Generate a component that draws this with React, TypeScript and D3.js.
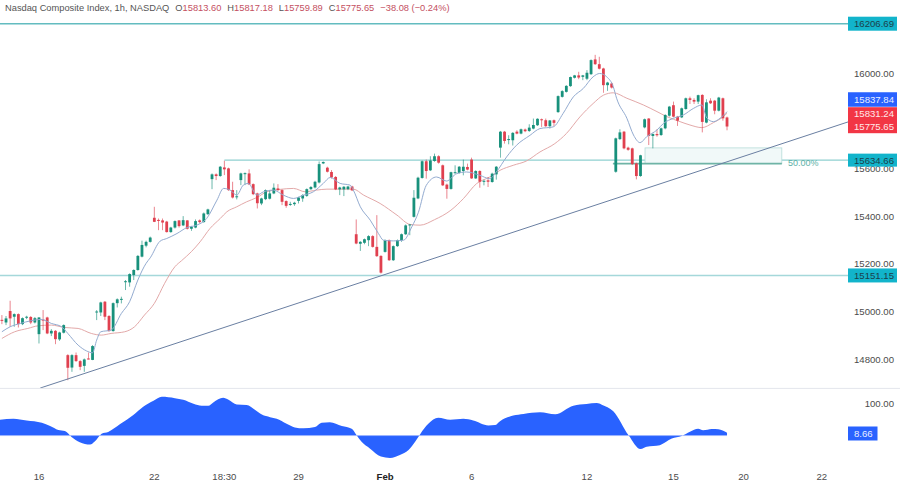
import React from "react";
import * as d3 from "d3";

const opens = [14965,14954,15002,14978,14989,14947,14974,14977,14954,14905,14966,14975,14908,14919,14883,14911,14817,14765,14817,14792,14772,14803,14797,14996,14996,15041,14981,14918,15035,15050,15124,15122,15153,15174,15230,15276,15292,
15393,15384,15382,15377,15333,15352,15382,15361,15382,15347,15352,15382,15375,15408,15555,15575,15568,15604,15600,15509,15479,15551,15577,15579,15534,15495,15453,15471,15473,15495,15516,15509,15463,15449,15450,15464,15474,15485,15513,15520,15541,15621,15603,15585,15564,15512,15512,15513,15524,15324,15284,15288,15299,15316,15271,15233,15250,15299,15215,15274,15299,15324,15362,15397,15474,
15560,15630,15592,15631,15651,15613,15532,15514,15581,15581,15589,15606,15637,15558,15589,15546,15550,15543,15575,15687,15754,15720,15718,15754,15746,15763,15757,15767,15781,15806,15802,15777,15802,15836,15900,15921,15945,15980,15990,15984,15976,15995,16057,16037,16019,15949,15956,
15586,15723,15754,15687,15684,15621,15568,15772,15809,15736,15744,15740,15768,15821,15865,15817,15814,15849,15894,15887,15880,15908,15792,15884,15884,15842,15894,15813.6];
const highs = [14985,14981,15045,14992,14992,14975,14982,14981,14977,14976,15006,14978,14926,14922,14915,14946,14821,14821,14828,14796,14803,14828,14859,15006,15041,15044,14985,15038,15055,15062,15132,15160,15177,15237,15297,15297,15314,
15439,15390,15390,15380,15355,15382,15383,15400,15383,15359,15386,15386,15415,15431,15579,15579,15610,15632,15603,15544,15509,15582,15583,15596,15537,15498,15477,15512,15509,15537,15534,15512,15466,15460,15460,15481,15492,15516,15526,15548,15629,15629,15607,15593,15568,15523,15526,15527,15527,15386,15295,15306,15320,15320,15404,15236,15302,15302,15277,15302,15327,15365,15366,15509,15565,
15633,15637,15651,15662,15655,15616,15536,15586,15613,15610,15637,15620,15645,15592,15592,15553,15564,15582,15610,15757,15757,15739,15752,15760,15767,15767,15785,15809,15810,15809,15809,15803,15805,15906,15928,15949,15985,15992,16005,15992,16012,16057,16076,16068,16022,15963,15960,
15729,15764,15757,15691,15687,15624,15657,15809,15811,15747,15764,15771,15827,15862,15880,15820,15855,15897,15901,15894,15909,15911,15890,15894,15887,15900,15897,15817.18];
const lows = [14947,14943,14936,14936,14933,14943,14968,14947,14950,14866,14922,14905,14897,14863,14877,14908,14712,14747,14789,14754,14747,14799,14796,14964,14981,14964,14915,14915,15017,15034,15090,15104,15132,15171,15227,15269,15289,
15375,15341,15341,15331,15330,15348,15352,15358,15344,15338,15349,15369,15372,15405,15513,15551,15565,15572,15506,15474,15470,15530,15530,15530,15488,15432,15446,15467,15470,15492,15506,15446,15435,15443,15443,15453,15460,15481,15509,15516,15537,15618,15583,15558,15509,15488,15484,15509,15505,15282,15254,15282,15274,15268,15229,15159,15247,15212,15212,15271,15292,15321,15320,15394,15471,
15557,15557,15589,15628,15620,15526,15473,15511,15578,15578,15571,15592,15556,15556,15519,15529,15522,15540,15553,15645,15704,15701,15696,15743,15743,15752,15753,15764,15778,15774,15774,15767,15777,15833,15897,15918,15942,15977,15974,15970,15970,15992,16034,16015,15917,15925,15935,
15582,15719,15680,15674,15614,15554,15565,15768,15698,15684,15733,15736,15764,15817,15814,15778,15811,15846,15870,15870,15870,15751,15789,15870,15827,15839,15800,15759.89];
const closes = [14963,14971,14971,14989,14947,14972,14978,14954,14972,14975,14963,14908,14919,14884,14912,14943,14764,14817,14792,14768,14799,14800,14855,15000,15038,14978,14918,15035,15051,15053,15127,15157,15174,15233,15279,15292,15310,
15376,15381,15373,15333,15352,15379,15358,15383,15347,15355,15379,15375,15411,15428,15575,15568,15607,15596,15509,15478,15483,15579,15580,15533,15492,15454,15474,15509,15495,15519,15509,15460,15443,15451,15456,15478,15488,15513,15522,15544,15618,15627,15586,15562,15512,15520,15523,15524,15508,15285,15292,15303,15316,15271,15232,15163,15299,15215,15274,15299,15324,15361,15365,15477,15561,
15630,15589,15633,15651,15624,15529,15514,15584,15584,15607,15607,15595,15558,15589,15544,15548,15544,15578,15607,15754,15715,15723,15749,15746,15764,15756,15771,15782,15808,15802,15777,15801,15791,15903,15924,15946,15983,15990,15981,15990,16001,16054,16037,16018,15949,15960,15939,
15726,15751,15684,15678,15618,15568,15655,15806,15736,15744,15739,15768,15824,15859,15817,15800,15852,15894,15887,15880,15907,15795,15877,15873,15842,15897,15810,15775.65];

const fastIdx = [0,2,4.5,7,9.5,12,14.5,16,18.5,20.5,22,23,24,26.5,29,31,33,35,36,38.4,40,42.5,44.9,47.3,49.7,52.2,53.8,55.4,57,58.6,59.8,61.9,63.5,65.9,68.3,70.8,73.2,75.6,78,79.7,82.1,84.5,85.3,87,89.4,91.4,92.6,95,97.5,99.5,101.1,103,105.5,107.9,110.4,112.8,116,118.4,120,122.5,124.9,128.2,130.6,133.8,136.2,138.7,141.1,143.5,145.1,146.8,148.4,149.2,151.7,153.3,154.9,156.5,159,160.6,163,165.4,167.9,169.9,171.1,172.7,174.3,176];
const fastVal = [14915,14936,14950,14961,14967,14950,14936,14908,14859,14835,14827,14880,14915,14922,14992,15041,15132,15202,15225,15295,15306,15327,15352,15362,15390,15467,15516,15509,15488,15530,15537,15488,15502,15509,15488,15474,15488,15502,15537,15562,15537,15530,15509,15439,15383,15327,15299,15296,15299,15355,15416,15529,15564,15547,15578,15585,15571,15557,15585,15648,15697,15739,15767,15774,15830,15900,15935,15984,15998,15984,15942,15894,15810,15740,15708,15733,15761,15789,15810,15824,15852,15866,15811,15796,15810,15837.84];
const slowIdx = [0,3.1,6.3,8.8,12,15.2,18.5,21.7,24.1,26.5,29.8,32.2,34.6,37,39.5,42,43.6,46,48.1,50.5,53,54.6,57,59.4,61.9,64.3,67.5,70.8,73.6,76.4,78.9,82.1,85.3,87.8,91.8,95.9,99.1,101.5,105,109,112,115.2,118.4,120.9,124.1,127.3,130.6,134.2,137,140.3,143.5,146,148.4,151.7,155.7,159,161.4,164.6,167,169.9,172.7,175.1,176];
const slowVal = [14887,14915,14929,14940,14943,14933,14929,14908,14901,14908,14915,14936,14985,15034,15118,15188,15213,15251,15292,15348,15390,15418,15439,15460,15478,15502,15512,15516,15502,15509,15513,15513,15513,15488,15453,15404,15365,15362,15385,15425,15473,15536,15564,15592,15613,15631,15669,15704,15746,15816,15872,15907,15917,15894,15866,15838,15817,15796,15782,15771,15792,15817,15831.24];

const oscIdx = [-0.5,2.8,6,9.7,11.7,13.7,15.3,16.9,18.9,21.4,22.6,24.2,25.8,28.7,31.9,34.3,36.8,38.8,42,44,46.5,48.5,50.1,51.3,53.7,55,57,59.4,61.4,63.1,65.1,66.7,69.1,71.1,73.2,76,77.6,79.6,82.5,84.9,86.1,87.3,89.3,92,94.2,96.6,98.7,100.3,101.6,103.5,105.9,108.8,112,114.4,118.1,119.7,120.9,124.1,126.6,130.6,134.3,138.7,141.9,144.4,145.6,148.4,152.1,155,156.5,159.7,162.6,165,167,169,170.2,172.3,173.9,176];
const oscVal = [48.8,52,46.7,39.6,29.5,17.3,14.2,-4.1,-20.3,-27.4,-17.3,6.1,11.2,35.6,64,89.4,107.7,119.9,115.8,110.8,98.6,92.5,92.5,102.6,116.8,110.8,96.5,94.5,80.3,65,56.9,51.8,36.6,25.4,22.4,26.4,39.6,41.7,29.5,21.3,1,-19.3,-39.6,-65,-69.1,-60,-44.7,-19.3,6.1,36.6,54.9,48.8,52,46.7,31.5,32.5,44.7,62,67,72.1,66,92.5,97.5,100.6,95.5,75.2,1,-41.7,-34.5,-29.5,-9.1,-1,12.2,21.3,16.3,20.3,19.3,8.66];

const priceTicks = [16000, 15600, 15400, 15200, 15000, 14800];
const timeTickIdx = [9, 37, 54, 72, 93, 114, 142, 163, 180, 199];
const timeTickLabels = ["16", "22", "18:30", "29", "Feb", "6", "12", "15", "20", "22"];

const levelTop = 16206.69;
const levelMid = 15634.66;
const levelLow = 15151.15;
const midStartIdx = 54;
const trendIdx = [9.3, 205.4];
const trendVal = [14679, 15795];
const fibIdx = [156.1, 189.3];
const fibEntryIdx = 148.3;
const fibVal = [15686, 15620];

const titleName = "Nasdaq Composite Index, 1h, NASDAQ";
const ohlc = [["O", "15813.60"], ["H", "15817.18"], ["L", "15759.89"], ["C", "15775.65"]];
const change = "\u221238.08 (\u22120.24%)";

const font = "'Liberation Sans', Arial, sans-serif";
const GREEN = "#18917c";
const RED = "#e0404f";
const LABEL = { blue: "#2962ff", red: "#f23645", teal: "#12b4cb" };
const FS = 9.6;

export default function App() {
  const x = d3.scaleLinear().domain([0, 100]).range([1.9, 413.9]);
  const y = d3.scaleLinear().domain([16000, 15000]).range([73, 311.5]);
  const osc = d3.scaleLinear().domain([0, 100]).range([435.6, 403.3]);
  const line = (ix: number[], vs: number[]) =>
    d3.line<number>().x((_, i) => x(ix[i])).y((d) => y(d)).curve(d3.curveMonotoneX)(vs) as string;
  const area = d3.area<number>().x((_, i) => x(oscIdx[i])).y0(osc(0)).y1((d) => osc(d)).curve(d3.curveMonotoneX)(oscVal) as string;

  const axisText = (v: string, yy: number) => (
    <text x={894} y={yy} textAnchor="end" fontSize={FS} fill="#4c4c4c" dominantBaseline="central">{v}</text>
  );
  const tag = (v: string, yy: number, h: number, fill: string, color: string) => (
    <g>
      <rect x={848} y={yy - h / 2} width={49} height={h} fill={fill} />
      <text x={894} y={yy} textAnchor="end" fontSize={FS} fill={color} dominantBaseline="central">{v}</text>
    </g>
  );

  return (
    <svg width={900} height={483} viewBox="0 0 900 483" fontFamily={font} style={{ position: "absolute", left: 0, top: 0, background: "#fff" }}>
      <rect width={900} height={483} fill="#fff" />
      <line x1={0} x2={848} y1={y(levelTop)} y2={y(levelTop)} stroke="#63bcc0" strokeWidth={1.6} />
      <line x1={0} x2={848} y1={y(levelLow)} y2={y(levelLow)} stroke="#a5d8da" strokeWidth={1.6} />
      <line x1={x(midStartIdx)} x2={848} y1={y(levelMid)} y2={y(levelMid)} stroke="#8fd0d0" strokeWidth={1.2} />

      <rect x={x(fibIdx[0])} y={y(fibVal[0])} width={x(fibIdx[1]) - x(fibIdx[0])} height={y(fibVal[1]) - y(fibVal[0])} fill="#f1f9f9" stroke="#b5dcd8" strokeWidth={0.8} />
      <line x1={x(fibEntryIdx)} x2={x(fibIdx[1])} y1={y(fibVal[1])} y2={y(fibVal[1])} stroke="#6fb4a6" strokeWidth={1.6} />
      <text x={788} y={163} fontSize={9} fill="#5cb0a6" dominantBaseline="central">50.00%</text>

      <path d={line(slowIdx, slowVal)} fill="none" stroke="#e3a9a9" strokeWidth={1} />
      {closes.map((c, i) => {
        const o = opens[i];
        const col = c >= o ? GREEN : RED;
        const top = Math.min(y(o), y(c));
        const h = Math.max(1, Math.abs(y(o) - y(c)));
        return (
          <g key={i}>
            <line x1={x(i)} x2={x(i)} y1={y(highs[i])} y2={y(lows[i])} stroke={col} strokeWidth={0.8} opacity={0.8} />
            <rect x={x(i) - 1.4} y={top} width={2.8} height={h} fill={col} />
          </g>
        );
      })}
      <path d={line(fastIdx, fastVal)} fill="none" stroke="#93abd0" strokeWidth={1} />

      <line x1={x(trendIdx[0])} x2={x(trendIdx[1])} y1={y(trendVal[0])} y2={y(trendVal[1])} stroke="#6a7fa2" strokeWidth={1} />

      {priceTicks.map((p) => <g key={p}>{axisText(d3.format(".2f")(p), y(p))}</g>)}

      {tag("16206.69", y(levelTop), 14, LABEL.teal, "#1c3f4a")}
      {tag("15151.15", y(levelLow), 14, LABEL.teal, "#1c3f4a")}
      {tag("15634.66", y(levelMid), 13, LABEL.teal, "#1c3f4a")}
      {tag("15837.84", 99.5, 14.5, LABEL.blue, "#e8eeff")}
      <rect x={848} y={107.2} width={49} height={26} fill={LABEL.red} />
      <text x={894} y={113.6} textAnchor="end" fontSize={FS} fill="#ffe9ea" dominantBaseline="central">15831.24</text>
      <text x={894} y={126.8} textAnchor="end" fontSize={FS} fill="#ffe9ea" dominantBaseline="central">15775.65</text>

      <line x1={0} x2={900} y1={388.4} y2={388.4} stroke="#e4e6ec" strokeWidth={1} />
      <path d={area} fill="#2962ff" />
      <line x1={0} x2={x(176)} y1={osc(0)} y2={osc(0)} stroke="#9fb7ff" strokeWidth={0.6} />
      {axisText("100.00", osc(100))}
      <rect x={848} y={426.5} width={29.5} height={14} fill={LABEL.blue} />
      <text x={854} y={433.7} fontSize={FS} fill="#e8eeff" dominantBaseline="central">8.66</text>

      {timeTickIdx.map((t, i) => (
        <text key={t} x={x(t)} y={476} textAnchor="middle" fontSize={FS} fill={timeTickLabels[i] === "Feb" ? "#222" : "#4c4c4c"} fontWeight={timeTickLabels[i] === "Feb" ? 700 : 400} dominantBaseline="central">{timeTickLabels[i]}</text>
      ))}

      <text x={5} y={7.5} fontSize={9.3} fill="#555" dominantBaseline="central">
        <tspan>{titleName}</tspan>
        {ohlc.map(([k, v]) => (
          <tspan key={k} dx={6}>
            <tspan fill="#555">{k}</tspan>
            <tspan fill="#c4505f">{v}</tspan>
          </tspan>
        ))}
        <tspan dx={6} fill="#c4505f">{change}</tspan>
      </text>
    </svg>
  );
}
